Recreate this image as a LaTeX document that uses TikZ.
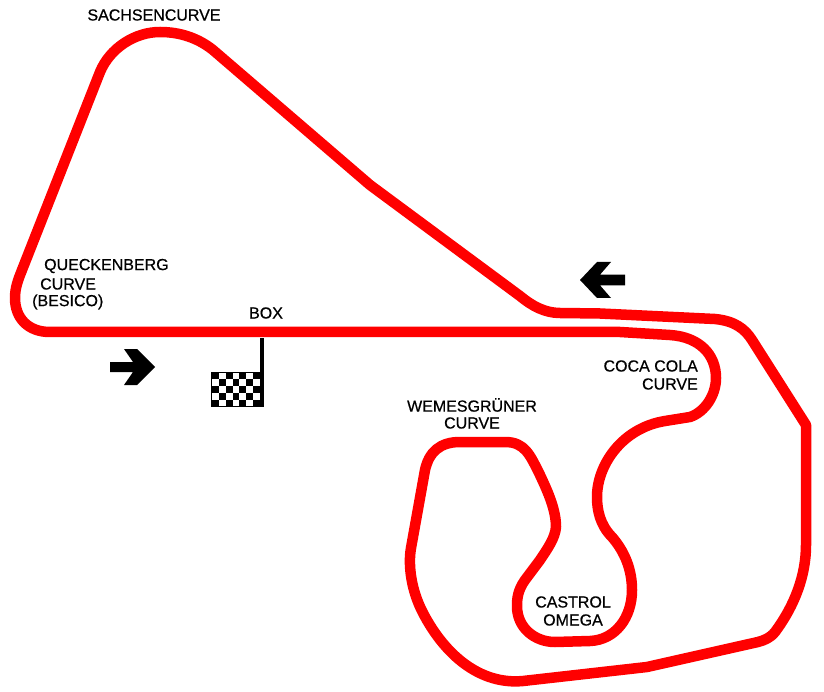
\documentclass[tikz,border=0pt]{standalone}
\usepackage{fontspec}
\setmainfont{Liberation Sans}[FakeBold=0.6]
\tikzset{
  track/.style={draw=red,line width=10.5pt,line join=round},
  lbl/.style={font=\fontsize{16pt}{18pt}\selectfont,text=black,inner sep=0pt,align=center},
  dirarrow/.style={fill=black,draw=none}
}
\begin{document}
\begin{tikzpicture}[x=1pt,y=-1pt]
\useasboundingbox (0,0) rectangle (824,692);
\draw[track] (160,32)
  .. controls (180,32) and (198,38) .. (213,50)
  -- (370,185) -- (520,296)
  .. controls (532,306) and (545,313) .. (560,313)
  -- (600,313.5) -- (715,319)
  .. controls (735,321) and (745,329) .. (752,340)
  -- (806,425) -- (806,545)
  .. controls (806,575) and (795,605) .. (775,632)
  .. controls (770,638) and (765,640) .. (758,642)
  -- (647,667) -- (523,681)
  .. controls (480,685) and (445,655) .. (423,613)
  .. controls (411,590) and (408,565) .. (411,548)
  -- (425,470)
  .. controls (429,452) and (440,442) .. (460,442)
  -- (505,442)
  .. controls (525,442) and (530,455) .. (540,475)
  .. controls (548,492) and (556,510) .. (556,527)
  .. controls (555,538) and (548,548) .. (540,560)
  -- (525,580)
  .. controls (518,590) and (517,598) .. (517,606)
  .. controls (517,628) and (535,642) .. (555,642)
  -- (590,641)
  .. controls (615,640) and (632,618) .. (632,590)
  .. controls (632,570) and (625,552) .. (612,537)
  .. controls (600,525) and (597,510) .. (597,497)
  .. controls (597,465) and (622,428) .. (665,421)
  -- (690,417)
  .. controls (705,412) and (716,395) .. (716,378)
  .. controls (716,355) and (700,337) .. (670,335)
  -- (620,332) -- (50,332)
  .. controls (28,332) and (15,318) .. (15,298)
  .. controls (15,288) and (18,280) .. (22,270)
  -- (100,72)
  .. controls (110,48) and (135,32) .. (160,32) -- cycle;
% pole and flag
\fill[black] (260,338) rectangle (264,372);
\fill[black] (211,372) rectangle (264,407);
\foreach \r in {0,...,4}{\foreach \c in {0,...,6}{
  \pgfmathparse{int(mod(\r+\c,2))}
  \ifnum\pgfmathresult=1\relax
    \fill[white] ({211.6+\c*6.97},{372.6+\r*6.75}) rectangle ++(6.97,6.75);
  \fi}}
% arrows
\fill[dirarrow] (110,362) -- (133,362) -- (124,349) -- (137,349) -- (155,367) -- (137,385) -- (124,385) -- (133,372) -- (110,372) -- cycle;
\fill[dirarrow] (625,274.7) -- (600,274.7) -- (611,262) -- (597,262) -- (580,280) -- (597,298) -- (611,298) -- (600,285.3) -- (625,285.3) -- cycle;
% labels
\node[lbl] (sachsen) at (154,15) {SACHSENCURVE};
\node[lbl,anchor=west] (queck) at (44,266) {QUECKENBERG};
\node[lbl,anchor=west] (queckb) at (40,284) {CURVE};
\node[lbl,anchor=west] (queckc) at (32,302) {(BESICO)};
\node[lbl] (box) at (266,313) {BOX};
\node[lbl,anchor=east] (coca) at (698,366) {COCA COLA};
\node[lbl,anchor=east] (cocab) at (698,384) {CURVE};
\node[lbl] (wem) at (472,405) {WEMESGR\"UNER};
\node[lbl] (wemb) at (472,423) {CURVE};
\node[lbl] (cas) at (573,602) {CASTROL};
\node[lbl] (casb) at (573,620) {OMEGA};
\end{tikzpicture}
\end{document}
